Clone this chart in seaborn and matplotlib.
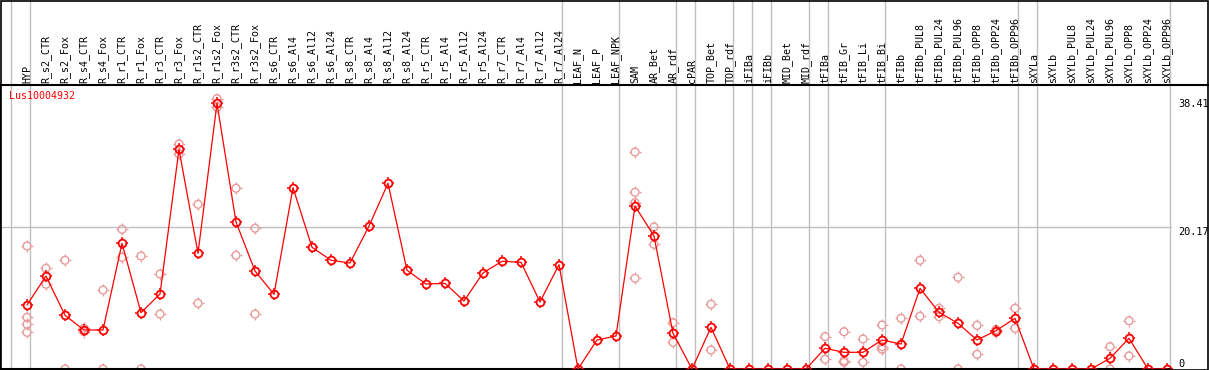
import numpy as np
import pandas as pd
import matplotlib
matplotlib.use("Agg")
import matplotlib.pyplot as plt
import matplotlib.transforms as mtransforms
from matplotlib.path import Path
from matplotlib.lines import Line2D
import seaborn as sns

GENE = "Lus10004932"

categories = [
    "HYP", "R_s2_CTR", "R_s2_Fox", "R_s4_CTR", "R_s4_Fox", "R_r1_CTR", "R_r1_Fox",
    "R_r3_CTR", "R_r3_Fox", "R_r1s2_CTR", "R_r1s2_Fox", "R_r3s2_CTR", "R_r3s2_Fox",
    "R_s6_CTR", "R_s6_Al4", "R_s6_Al12", "R_s6_Al24", "R_s8_CTR", "R_s8_Al4",
    "R_s8_Al12", "R_s8_Al24", "R_r5_CTR", "R_r5_Al4", "R_r5_Al12", "R_r5_Al24",
    "R_r7_CTR", "R_r7_Al4", "R_r7_Al12", "R_r7_Al24", "LEAF_N", "LEAF_P", "LEAF_NPK",
    "SAM", "AR_Bet", "AR_rdf", "cPAR", "TOP_Bet", "TOP_rdf", "iFIBa", "iFIBb",
    "MID_Bet", "MID_rdf", "tFIBa", "tFIB_Gr", "tFIB_Li", "tFIB_Bi", "tFIBb",
    "tFIBb_PUL8", "tFIBb_PUL24", "tFIBb_PUL96", "tFIBb_OPP8", "tFIBb_OPP24",
    "tFIBb_OPP96", "sXYLa", "sXYLb", "sXYLb_PUL8", "sXYLb_PUL24", "sXYLb_PUL96",
    "sXYLb_OPP8", "sXYLb_OPP24", "sXYLb_OPP96",
]

mean_values = [
    9.09, 13.21, 7.63, 5.54, 5.54, 17.85, 8.0,
    10.65, 31.2, 16.43, 37.74, 20.88, 13.92,
    10.61, 25.75, 17.29, 15.44, 15.06, 20.3,
    26.38, 14.02, 12.07, 12.17, 9.66, 13.64,
    15.3, 15.16, 9.52, 14.82, 0, 4.12, 4.69,
    23.15, 18.89, 5.07, 0, 5.92, 0, 0, 0,
    0, 0, 2.94, 2.37, 2.37, 4.12, 3.55,
    11.46, 8.05, 6.49, 4.12, 5.44,
    7.2, 0, 0, 0, 0, 1.52,
    4.36, 0, 0,
]

# individual replicates (pale circles)
replicates = {
    "HYP": [17.47, 7.34, 6.35, 5.21],
    "R_s2_CTR": [14.3, 12.03],
    "R_s2_Fox": [15.44, 0],
    "R_s4_CTR": [5.8, 5.3],
    "R_s4_Fox": [11.22, 0],
    "R_r1_CTR": [19.84, 15.87],
    "R_r1_Fox": [16.05, 0],
    "R_r3_CTR": [13.49, 7.81],
    "R_r3_Fox": [31.96, 30.54],
    "R_r1s2_CTR": [23.39, 9.33],
    "R_r1s2_Fox": [38.41, 37.17],
    "R_r3s2_CTR": [25.67, 16.15],
    "R_r3s2_Fox": [19.99, 7.81],
    "SAM": [30.82, 25.1, 23.62, 12.88],
    "AR_Bet": [20.17, 17.71],
    "AR_rdf": [6.58, 3.79],
    "TOP_Bet": [9.19, 2.7],
    "tFIBa": [4.6, 1.38],
    "tFIB_Gr": [5.3, 1.18, 0.95],
    "tFIB_Li": [4.26, 0.95],
    "tFIB_Bi": [6.25, 3.17, 2.8],
    "tFIBb": [7.2, 0],
    "tFIBb_PUL8": [15.44, 7.5],
    "tFIBb_PUL24": [8.62, 7.43],
    "tFIBb_PUL96": [13.02, 0],
    "tFIBb_OPP8": [6.2, 2.08],
    "tFIBb_OPP24": [5.2, 5.6],
    "tFIBb_OPP96": [8.62, 5.78],
    "sXYLb_PUL96": [3.17, 0],
    "sXYLb_OPP8": [6.86, 1.85],
}

# last sample of each tissue group (grey separators)
group_ends = [
    "HYP", "R_r7_Al24", "LEAF_NPK", "AR_rdf", "cPAR", "TOP_rdf", "iFIBa", "iFIBb",
    "MID_rdf", "tFIBa", "tFIB_Bi", "tFIBb_OPP96", "sXYLa", "sXYLb_OPP96",
]

y_ticks = [0, 20.17, 38.41]
Y_MAX = 40.34

RED = "#ff0000"
PALE = "#e89a9a"
GRID = "#c0c0c0"
FONT = "DejaVu Sans Mono"

pos = {c: i for i, c in enumerate(categories)}
df_mean = pd.DataFrame({"pos": np.arange(len(categories)), "value": mean_values})
rep_rows = [(pos[c], v) for c, vals in replicates.items() for v in vals]
df_rep = pd.DataFrame(rep_rows, columns=["pos", "value"])

# four short ticks sitting just outside the circle markers
TICK_OUT = 1.5
verts, codes = [], []
for dx, dy in [(0, 1), (0, -1), (1, 0), (-1, 0)]:
    verts += [(dx, dy), (dx * TICK_OUT, dy * TICK_OUT)]
    codes += [Path.MOVETO, Path.LINETO]
ticks = Path(verts, codes)

CIRCLE_MS = 5.6
TICK_MS = CIRCLE_MS * TICK_OUT

sns.set_style("white")
plt.rcParams["font.family"] = [FONT, "DejaVu Sans"]

W, H = 1209, 370
fig = plt.figure(figsize=(W / 100, H / 100), dpi=100)
fig.patch.set_facecolor("white")

AX_W = 1172
HEADER = 85
x0 = -27 / 19
x1 = (AX_W - 27) / 19

ax = fig.add_axes([0, 1 / H, AX_W / W, (369 - HEADER) / H])
hax = fig.add_axes([0, (H - HEADER) / H, AX_W / W, HEADER / H], sharex=ax)

ax.axhline(Y_MAX / 2, color=GRID, lw=1, zorder=1)
for a in (ax, hax):
    a.axvline(-1 + 0.18, color=GRID, lw=1, zorder=1)
    for name in group_ends:
        a.axvline(pos[name] + 0.18, color=GRID, lw=1, zorder=1)

# replicates: pale rings + ticks
sns.scatterplot(data=df_rep, x="pos", y="value", marker="o", s=CIRCLE_MS ** 2,
                color=PALE, linewidth=1.0, ax=ax, zorder=2, legend=False)
ax.collections[-1].set_facecolor("none")
ax.collections[-1].set_edgecolor(PALE)
sns.scatterplot(data=df_rep, x="pos", y="value", marker=ticks, s=TICK_MS ** 2,
                color=PALE, linewidth=1.0, ax=ax, zorder=2, legend=False)
ax.collections[-1].set_edgecolor(PALE)

# mean profile
sns.lineplot(data=df_mean, x="pos", y="value", color=RED, linewidth=0.9,
             marker="o", markersize=CIRCLE_MS, markerfacecolor="none",
             markeredgecolor=RED, markeredgewidth=1.3, ax=ax, zorder=3)
sns.scatterplot(data=df_mean, x="pos", y="value", marker=ticks, s=TICK_MS ** 2,
                color=RED, linewidth=1.1, ax=ax, zorder=3, legend=False)
ax.collections[-1].set_edgecolor(RED)

ax.set_xlim(x0, x1)
ax.set_ylim(0, Y_MAX)
ax.set_xlabel("")
ax.set_ylabel("")
ax.set_xticks([])
ax.set_yticks([])
for side in ["top", "right"]:
    ax.spines[side].set_visible(False)
for side in ["left", "bottom"]:
    ax.spines[side].set_color("black")
    ax.spines[side].set_linewidth(1.5)

hax.set_ylim(0, 1)
hax.axis("off")
for i, c in enumerate(categories):
    hax.text(i, 2 / HEADER, c, rotation=90, ha="center", va="bottom",
             fontsize=7.2, family=FONT, color="black")

fig.text(9 / W, 1 - 91 / H, GENE, ha="left", va="top", fontsize=7.2,
         family=FONT, color=RED)

lab_tr = mtransforms.blended_transform_factory(fig.transFigure, ax.transData)
for t in y_ticks:
    ax.text(1178 / W, t, "0" if t == 0 else f"{t:.2f}", transform=lab_tr,
            ha="left", va="bottom" if t == 0 else "top", fontsize=7.4,
            family=FONT, color="black", clip_on=False)

# header separator and outer frame
fig.add_artist(Line2D([0, 1], [(H - HEADER) / H] * 2, transform=fig.transFigure,
                      color="black", lw=1.5))
fig.add_artist(plt.Rectangle((0.5 / W, 0.5 / H), 1 - 1.5 / W, 1 - 1.5 / H,
                             transform=fig.transFigure, fill=False,
                             edgecolor="black", lw=1.2))

fig.savefig("out.png", dpi=100, facecolor="white")
